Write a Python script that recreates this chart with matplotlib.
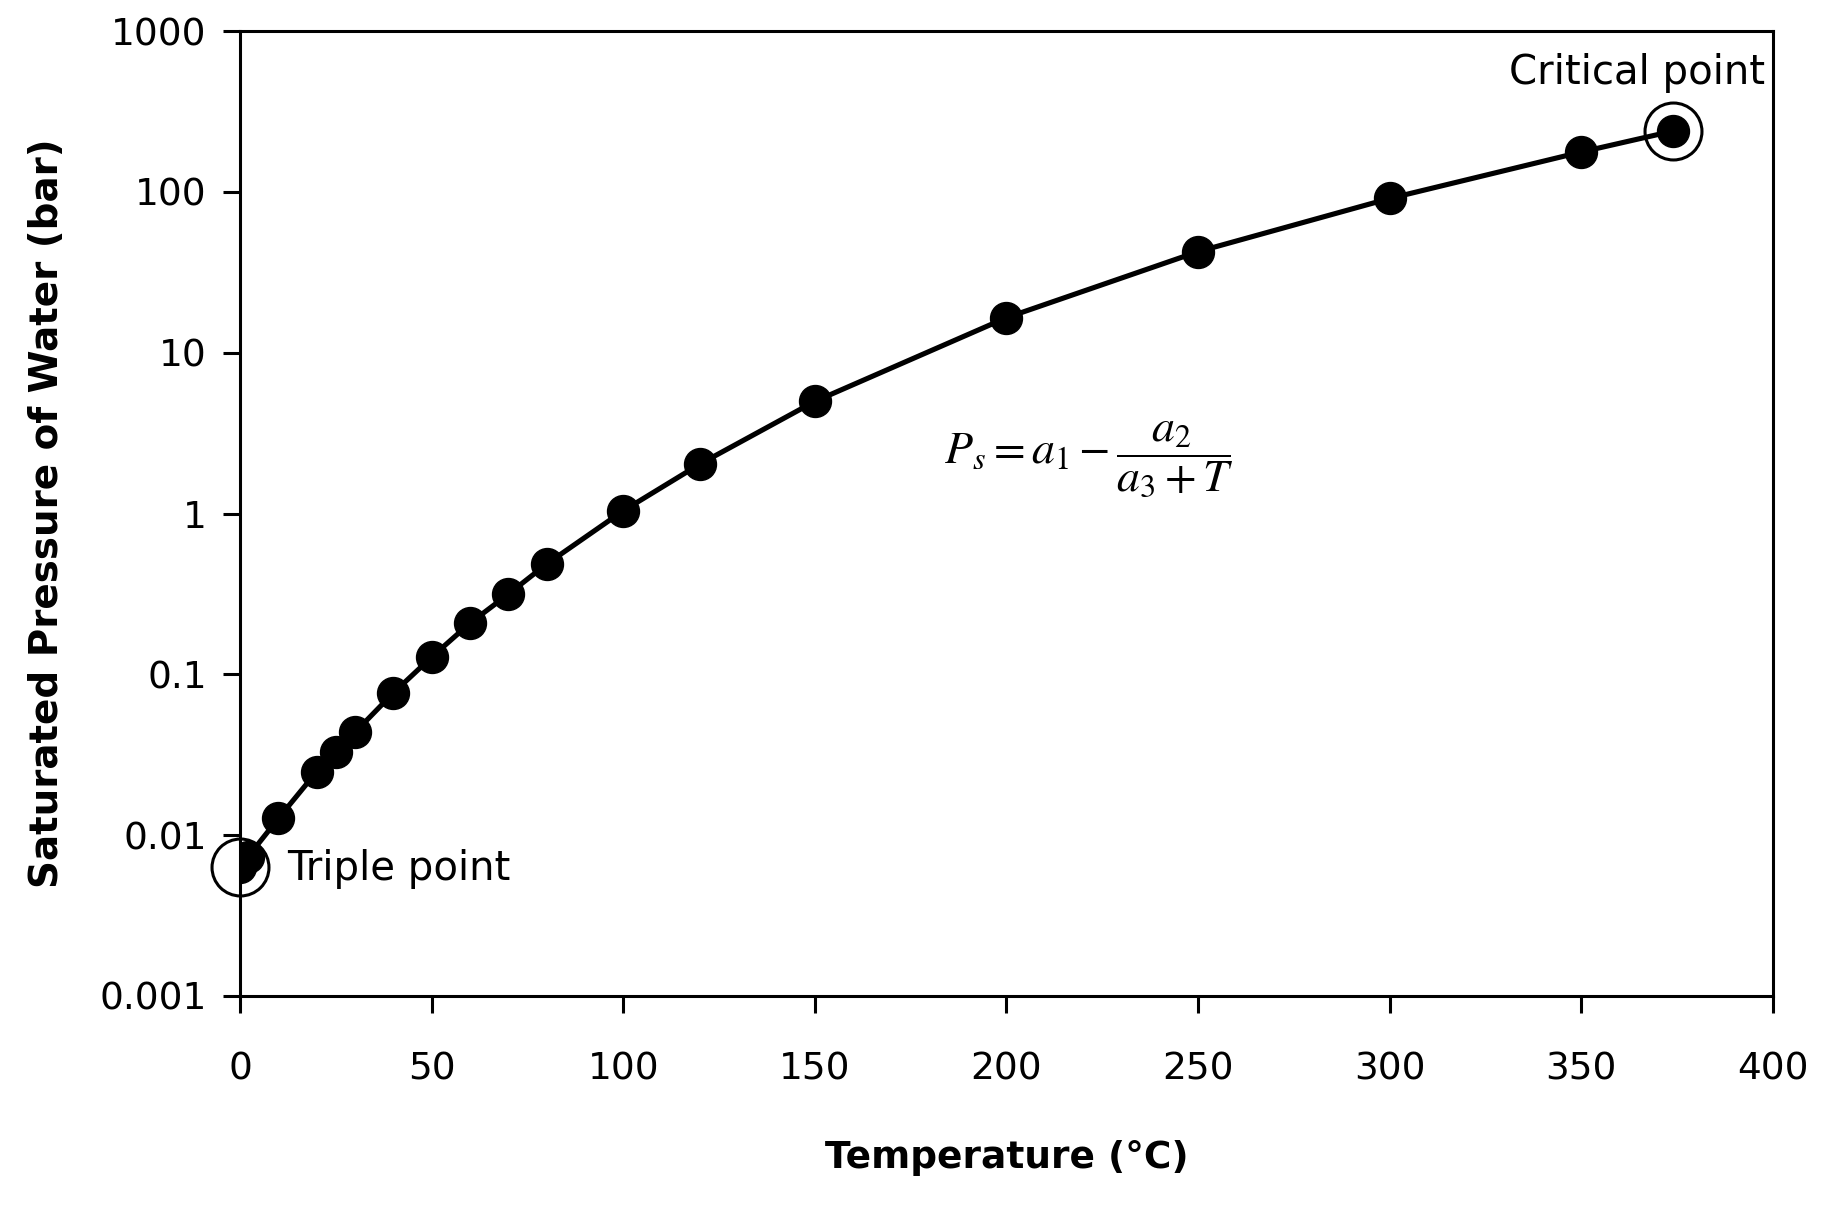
import matplotlib
matplotlib.use("Agg")
import matplotlib.pyplot as plt
from matplotlib.ticker import FixedLocator, FixedFormatter, NullLocator

# Saturated vapour pressure of water
temperature_c = [0.01, 2, 10, 20, 25, 30, 40, 50, 60, 70, 80, 100, 120, 150, 200, 250, 300, 350, 374]
pressure_bar = [0.0063, 0.0073, 0.0127, 0.0248, 0.0328, 0.0436, 0.0766, 0.128, 0.208, 0.315, 0.485,
                1.04, 2.03, 4.98, 16.5, 42.5, 91.0, 177.0, 239.0]

triple_point = (0.01, 0.0063)
critical_point = (374, 239.0)

y_ticks = [0.001, 0.01, 0.1, 1, 10, 100, 1000]
y_tick_labels = ["0.001", "0.01", "0.1", "1", "10", "100", "1000"]
x_ticks = [0, 50, 100, 150, 200, 250, 300, 350, 400]

plt.rcParams["font.family"] = ["DejaVu Sans"]
plt.rcParams["mathtext.fontset"] = "stix"

fig = plt.figure(figsize=(18.21, 12.08), dpi=100)
ax = fig.add_axes([0.1318, 0.1755, 0.8418, 0.7988])

ax.plot(temperature_c, pressure_bar, color="black", lw=3.7, marker="o", ms=23,
        markerfacecolor="black", markeredgecolor="black", zorder=3)

for pt in (triple_point, critical_point):
    ax.plot([pt[0]], [pt[1]], marker="o", ms=41, markerfacecolor="none",
            markeredgecolor="black", markeredgewidth=2.2, clip_on=False, zorder=4)

ax.set_yscale("log")
ax.set_xlim(0, 400)
ax.set_ylim(0.001, 1000)
ax.yaxis.set_major_locator(FixedLocator(y_ticks))
ax.yaxis.set_major_formatter(FixedFormatter(y_tick_labels))
ax.yaxis.set_minor_locator(NullLocator())
ax.set_xticks(x_ticks)
ax.set_xticklabels([str(v) for v in x_ticks])

ax.tick_params(axis="both", direction="out", length=12, width=2.2, labelsize=27, color="black")
ax.tick_params(axis="x", pad=28)
ax.tick_params(axis="y", pad=12)
for side in ax.spines.values():
    side.set_linewidth(2.2)

ax.set_xlabel("Temperature (°C)", fontsize=27, fontweight="bold", labelpad=38)
ax.set_ylabel("Saturated Pressure of Water (bar)", fontsize=28, fontweight="bold", labelpad=24)

ax.text(0.031, 0.132, "Triple point", transform=ax.transAxes, fontsize=29,
        ha="left", va="center")
ax.text(0.995, 0.957, "Critical point", transform=ax.transAxes, fontsize=29,
        ha="right", va="center")
ax.text(0.554, 0.556, r"$P_s = a_1 - \dfrac{a_2}{a_3 + T}$", transform=ax.transAxes,
        fontsize=33, ha="center", va="center")

fig.savefig("out.png", dpi=100)
plt.close(fig)
